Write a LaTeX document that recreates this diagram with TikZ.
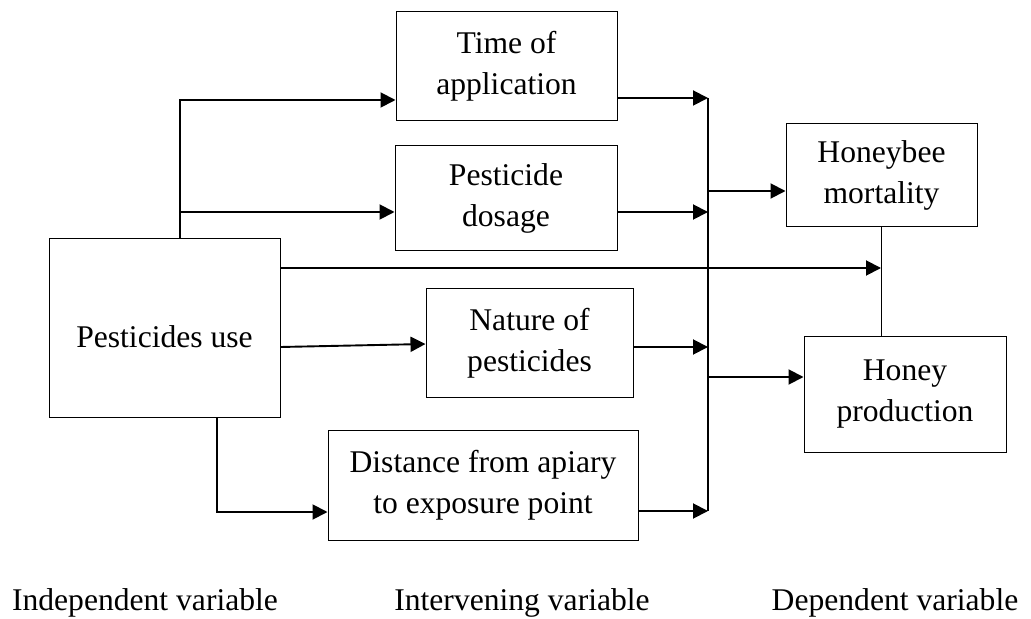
\documentclass[tikz,border=0pt]{standalone}
\usepackage{fontspec}
\setmainfont{Liberation Serif}
\usetikzlibrary{arrows.meta,calc}
\newcommand\bxfont{\fontsize{15.8}{20.5}\selectfont}
\tikzset{
  >={Triangle[length=7.5pt,width=7.5pt]},
  bx/.style={draw,line width=0.5pt,inner sep=0pt,align=center,font=\bxfont},
  ar/.style={->,line width=0.95pt},
  ln/.style={line width=0.7pt},
  vlabel/.style={font=\bxfont,anchor=base,inner sep=0pt},
}
\begin{document}
\begin{tikzpicture}[x=0.5pt,y=-0.5pt]
\useasboundingbox (0,0) rectangle (1031,619);
\node[bx,minimum width=115.5pt,minimum height=89pt] (pu) at (164.5,328){\raisebox{-10pt}[0pt][0pt]{Pesticides use}};
\node[bx,minimum width=110.5pt,minimum height=54.5pt] (time) at (506.5,66.5){Time of\\application};
\node[bx,minimum width=111pt,minimum height=52.5pt] (dose) at (506,198.5){Pesticide\\dosage};
\node[bx,minimum width=103.5pt,minimum height=54pt] (nat) at (529.5,343){Nature of\\pesticides};
\node[bx,minimum width=155pt,minimum height=55pt] (dist) at (483,485){Distance from apiary\\to exposure point};
\node[bx,minimum width=95.5pt,minimum height=51.5pt] (hb) at (881.5,175.5){Honeybee\\mortality};
\node[bx,minimum width=101pt,minimum height=57.5pt] (hp) at (905,394.5){Honey\\production};
% bus and junction points
\coordinate (bt) at (708,98); \coordinate (bb) at (708,511);
\coordinate (j1) at (180,239); \coordinate (j2) at (217,417); \coordinate (j3) at (881,268);
% independent -> intervening
\draw[ar] (j1) |- (time.west |- 0,100); \draw[ar] (j1 |- 0,212) -- (dose.west |- 0,212);
\draw[ar] (pu.east |- 0,347) -- (nat.west |- 0,344); \draw[ar] (j2) |- (dist.west |- 0,512);
\draw[ar] (pu.east |- 0,268) -- (j3);
% intervening -> bus
\draw[ar] (time.east |- bt) -- (bt); \draw[ar] (dose.east |- 0,212) -- (bt |- 0,212);
\draw[ar] (nat.east |- 0,347) -- (bt |- 0,347); \draw[ar] (dist.east |- bb) -- (bb);
\draw[ln] (bt) -- (bb);
% bus -> dependent
\draw[ar] (bt |- 0,191) -- (hb.west |- 0,191); \draw[ar] (bt |- 0,377) -- (hp.west |- 0,377);
\draw[ln] (hb.south) -- (hb.south |- hp.north);
% captions
\node[vlabel] (c1) at (145,610){Independent variable};
\node[vlabel] (c2) at (522,610){Intervening variable};
\node[vlabel] (c3) at (895,610){Dependent variable};
\end{tikzpicture}
\end{document}
